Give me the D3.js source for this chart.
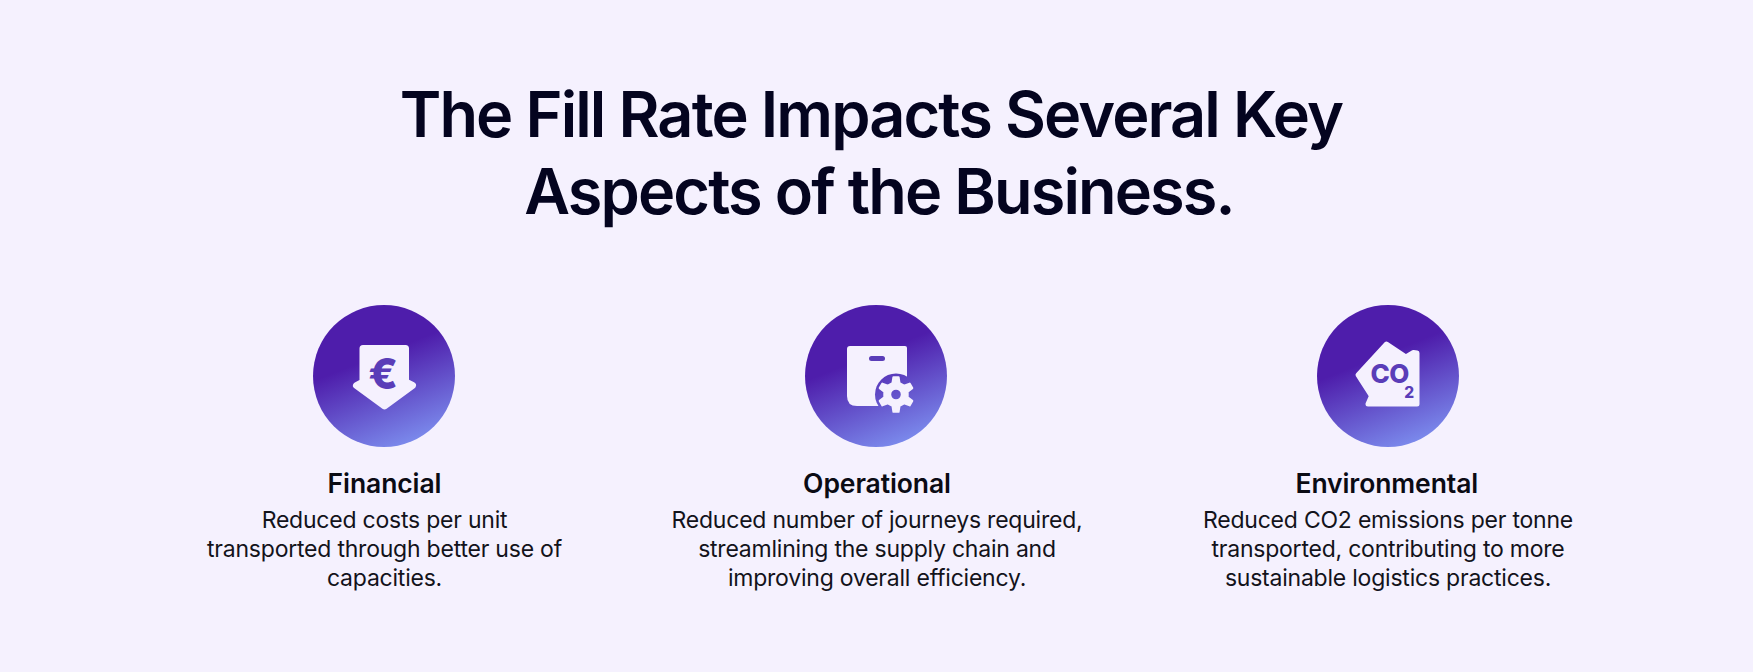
<!DOCTYPE html>
<html>
<head>
<meta charset="utf-8">
<script src="https://cdn.jsdelivr.net/npm/d3@7"></script>
<style>
  html, body { margin: 0; padding: 0; background: #f5f1fe; overflow: hidden; }
  text { font-family: Inter, "Noto Sans", sans-serif; text-anchor: middle; }
</style>
</head>
<body>
<script>
const titleLines = ["The Fill Rate Impacts Several Key", "Aspects of the Business."];
const categories = ["Financial", "Operational", "Environmental"];
const descriptions = [
  ["Reduced costs per unit", "transported through better use of", "capacities."],
  ["Reduced number of journeys required,", "streamlining the supply chain and", "improving overall efficiency."],
  ["Reduced CO2 emissions per tonne", "transported, contributing to more", "sustainable logistics practices."]
];

const width = 1753, height = 672;
const paper = "#f5f1fe";
const inkColor = "#5a3db8";

// columns are not quite evenly spaced in the picture
const x = d3.scaleOrdinal().domain(categories).range([384.5, 877, 1388]);
const headX = d3.scaleOrdinal().domain(categories).range([384.5, 877, 1386.8]);
const iconX = d3.scaleOrdinal().domain(categories).range([384, 876, 1388]);

const svg = d3.select("body").append("svg")
    .attr("width", width)
    .attr("height", height)
    .style("display", "block");

const defs = svg.append("defs");
const grad = defs.append("linearGradient")
    .attr("id", "disc")
    .attr("x1", 0.3).attr("y1", 0)
    .attr("x2", 0.7).attr("y2", 1);
grad.append("stop").attr("offset", 0.36).attr("stop-color", "#4e1dab");
grad.append("stop").attr("offset", 1).attr("stop-color", "#7d8fef");

// bite out of the box where the gear sits
const bite = defs.append("mask")
    .attr("id", "bite")
    .attr("maskUnits", "userSpaceOnUse")
    .attr("x", -71).attr("y", -71).attr("width", 142).attr("height", 142);
bite.append("rect").attr("x", -71).attr("y", -71).attr("width", 142).attr("height", 142).attr("fill", "#fff");
bite.append("circle").attr("cx", 20).attr("cy", 18.5).attr("r", 21).attr("fill", "#000");

// title
svg.selectAll(".title")
    .data(titleLines)
    .enter().append("text")
    .attr("class", "title")
    .attr("x", (d, i) => i == 0 ? 871 : 879)
    .attr("y", (d, i) => 137 + i * 77)
    .attr("fill", "#04041f")
    .attr("font-size", 63)
    .attr("font-weight", 600)
    .attr("letter-spacing", -1.88)
    .text(d => d);

const col = svg.selectAll(".col")
    .data(categories)
    .enter().append("g")
    .attr("class", "col");

col.append("text")
    .attr("x", d => headX(d))
    .attr("y", 493)
    .attr("fill", "#0b0b14")
    .attr("font-size", 26.5)
    .attr("font-weight", 600)
    .attr("letter-spacing", -0.1)
    .text(d => d);

col.each(function(d, i) {
    d3.select(this).selectAll(".line")
        .data(descriptions[i])
        .enter().append("text")
        .attr("class", "line")
        .attr("x", x(d))
        .attr("y", (t, j) => 528 + j * 29)
        .attr("fill", "#13131b")
        .attr("font-size", 23)
        .attr("letter-spacing", -0.22)
        .text(t => t);
});

const icon = col.append("g").attr("transform", d => "translate(" + iconX(d) + ",376)");
icon.append("circle").attr("r", 71).attr("fill", "url(#disc)");

// euro arrow
const euro = icon.filter((d, i) => i == 0);
euro.append("path")
    .attr("fill", paper)
    .attr("stroke", paper)
    .attr("stroke-width", 7)
    .attr("stroke-linejoin", "round")
    .attr("d", "M-21,-27.5 L21.5,-27.5 L21.5,6 L28.5,9.5 L0.5,30 L-27.5,9.5 L-21,6 Z");
euro.append("text")
    .attr("x", -1).attr("y", 12.5)
    .attr("fill", inkColor)
    .attr("font-size", 43)
    .attr("font-weight", 800)
    .text("€");

// box with gear
const box = icon.filter((d, i) => i == 1);
box.append("path")
    .attr("fill", paper)
    .attr("mask", "url(#bite)")
    .attr("d", "M-26,-30 L29,-30 Q31,-30 31,-28 L31,30 L-19,30 Q-29,30 -29,20 L-29,-27 Q-29,-30 -26,-30 Z");
box.append("rect")
    .attr("x", -7).attr("y", -20).attr("width", 16).attr("height", 5).attr("rx", 2.5)
    .attr("fill", inkColor);
const gearPts = [];
d3.range(6).forEach(k => {
    const a = k * Math.PI / 3;
    [[-0.3, 12], [-0.15, 17.5], [0.15, 17.5], [0.3, 12]].forEach(p => {
        gearPts.push([a + p[0], p[1]]);
    });
});
const gearHole = d3.path();
gearHole.moveTo(5.8, 0);
gearHole.arc(0, 0, 5.8, 0, 2 * Math.PI);
box.append("path")
    .attr("transform", "translate(20,18.5)")
    .attr("fill", paper)
    .attr("fill-rule", "evenodd")
    .attr("stroke", paper)
    .attr("stroke-width", 2)
    .attr("stroke-linejoin", "round")
    .attr("d", d3.lineRadial().curve(d3.curveLinearClosed)(gearPts) + gearHole.toString());

// co2 house
const co2 = icon.filter((d, i) => i == 2);
co2.append("path")
    .attr("fill", paper)
    .attr("stroke", paper)
    .attr("stroke-width", 5)
    .attr("stroke-linejoin", "round")
    .attr("d", "M-1.5,-32 L18,-19 L25.5,-23.5 L29,-23 L29,28 L-20,28 L-16.5,20 L-30,-1 Z");
const co2Text = co2.append("text")
    .attr("x", -17.5).attr("y", 7)
    .style("text-anchor", "start")
    .attr("fill", inkColor)
    .attr("font-size", 26)
    .attr("font-weight", 800)
    .attr("letter-spacing", -0.6);
co2Text.append("tspan").text("CO");
co2Text.append("tspan")
    .attr("dx", -4.5).attr("dy", 15)
    .attr("font-size", 15.5)
    .text("2");
</script>
</body>
</html>
